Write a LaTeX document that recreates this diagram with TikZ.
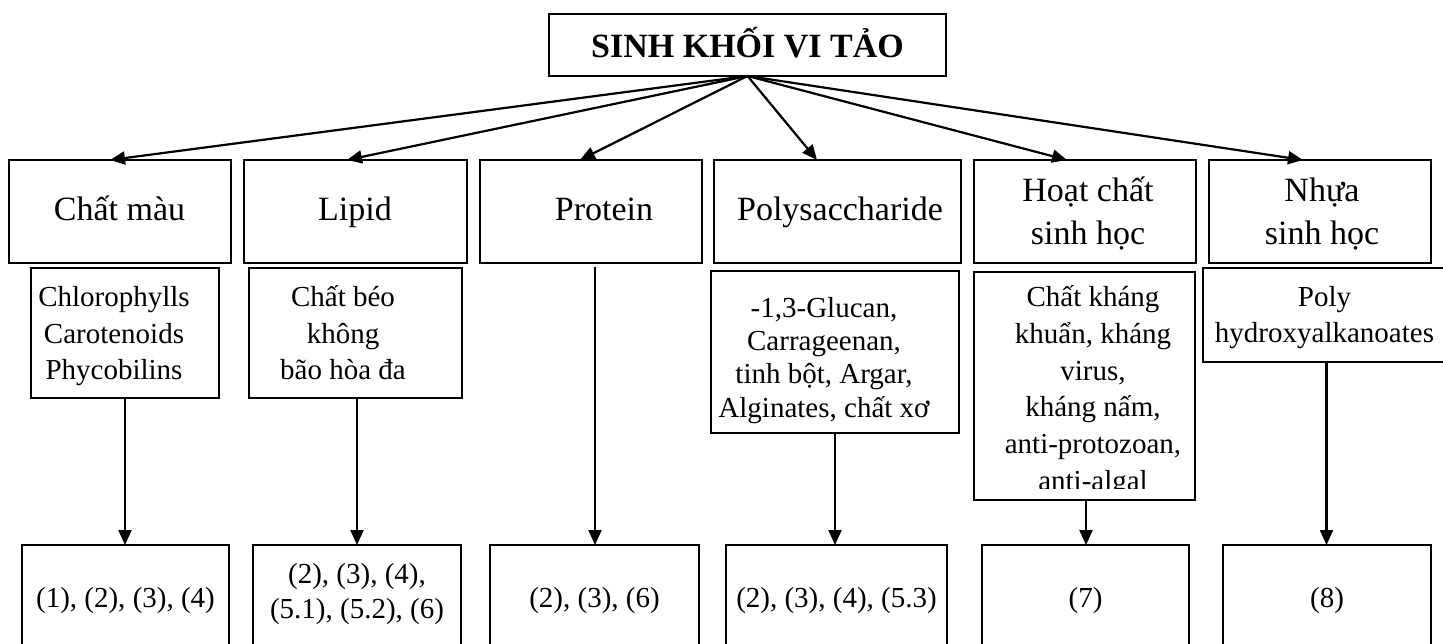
\documentclass[tikz,border=0pt]{standalone}
\usepackage{fontspec}
\setmainfont{Liberation Serif}
\usetikzlibrary{arrows.meta}
\begin{document}
\begin{tikzpicture}[x=1pt,y=-1pt,
  box/.style={draw, line width=2.2pt, inner sep=0pt, outer sep=0pt},
  conn/.style={line width=2.2pt, -{Triangle[length=15pt,width=13pt]}},
  big/.style={inner sep=0pt, anchor=base, font=\fontsize{34}{40}\selectfont},
  small/.style={inner sep=0pt, anchor=base, font=\fontsize{29}{35}\selectfont}]
\useasboundingbox (0,0) rectangle (1443,644);

% title
\node[box, minimum width=397pt, minimum height=62pt] (root) at (747.5,45) {};
\node[inner sep=0pt, anchor=base, font=\fontsize{34}{40}\selectfont\bfseries] (tRoot) at (747.5,58)
  {SINH KHỐI VI TẢO};

% first row
\node[box, minimum width=222pt, minimum height=103pt] (A) at (120,211.5) {};
\node[box, minimum width=223pt, minimum height=103pt] (B) at (355.5,211.5) {};
\node[box, minimum width=222pt, minimum height=103pt] (C) at (591,211.5) {};
\node[box, minimum width=247pt, minimum height=103pt] (D) at (837.5,211.5) {};
\node[box, minimum width=222pt, minimum height=103pt] (E) at (1085,211.5) {};
\node[box, minimum width=222pt, minimum height=103pt] (F) at (1320,211.5) {};

\node[big] (tA) at (119.5,221) {Chất màu};
\node[big] (tB) at (355,221) {Lipid};
\node[big] (tC) at (604,221) {Protein};
\node[big] (tD) at (840,221) {Polysaccharide};
\node[big] (tE1) at (1088,202) {Hoạt chất};
\node[big] (tE2) at (1088,245) {sinh học};
\node[big] (tF1) at (1322,202) {Nhựa};
\node[big] (tF2) at (1322,245) {sinh học};

% arrows from title
\draw[conn] (root.south) -- ([xshift=-10pt]A.north);
\draw[conn] (root.south) -- ([xshift=-8.5pt]B.north);
\draw[conn] (root.south) -- ([xshift=-11pt]C.north);
\draw[conn] (root.south) -- ([xshift=-20.5pt]D.north);
\draw[conn] (root.south) -- ([xshift=-18pt]E.north);
\draw[conn] (root.south) -- ([xshift=-17pt]F.north);

% detail boxes
\node[box, minimum width=188pt, minimum height=130pt] (DA) at (125,333) {};
\node[box, minimum width=213pt, minimum height=130pt] (DB) at (355.5,333) {};
\node[box, minimum width=248pt, minimum height=162pt] (DD) at (835,352) {};
\node[box, minimum width=221pt, minimum height=228pt] (DE) at (1084.5,386) {};
\node[box, minimum width=247pt, minimum height=94pt] (DF) at (1326.5,315) {};

\node[small] (dA1) at (114,307) {Chlorophylls};
\node[small] (dA2) at (114,343) {Carotenoids};
\node[small] (dA3) at (114,379) {Phycobilins};

\node[small] (dB1) at (343,307) {Chất béo};
\node[small] (dB2) at (343,343) {không};
\node[small] (dB3) at (343,379) {bão hòa đa};

\node[small] (dD1) at (824,317) {-1,3-Glucan,};
\node[small] (dD2) at (824,350.3) {Carrageenan,};
\node[small] (dD3) at (824,383.7) {tinh bột, Argar,};
\node[small] (dD4) at (824,417) {Alginates, chất xơ};

\begin{scope}
\clip (976,274) rectangle (1193,488);
\node[small] (dE1) at (1093,307) {Chất kháng};
\node[small] (dE2) at (1093,343.6) {khuẩn, kháng};
\node[small] (dE3) at (1093,380.2) {virus,};
\node[small] (dE4) at (1093,416.8) {kháng nấm,};
\node[small] (dE5) at (1093,453.4) {anti-protozoan,};
\node[small] (dE6) at (1093,490) {anti-algal};
\end{scope}

\node[small] (dF1) at (1324.5,307) {Poly};
\node[small] (dF2) at (1324.5,342) {hydroxyalkanoates};

% bottom boxes
\node[box, minimum width=207pt, minimum height=115pt] (BA) at (125.5,602.5) {};
\node[box, minimum width=208pt, minimum height=115pt] (BB) at (357,602.5) {};
\node[box, minimum width=209pt, minimum height=115pt] (BC) at (594.5,602.5) {};
\node[box, minimum width=221pt, minimum height=115pt] (BD) at (836.5,602.5) {};
\node[box, minimum width=207pt, minimum height=115pt] (BE) at (1085.5,602.5) {};
\node[box, minimum width=208pt, minimum height=115pt] (BF) at (1327,602.5) {};

\node[small] (bA) at (125.5,607) {(1), (2), (3), (4)};
\node[small] (bB1) at (357,583) {(2), (3), (4),};
\node[small] (bB2) at (357,618) {(5.1), (5.2), (6)};
\node[small] (bC) at (594.5,607) {(2), (3), (6)};
\node[small] (bD) at (836.5,607) {(2), (3), (4), (5.3)};
\node[small] (bE) at (1085.5,607) {(7)};
\node[small] (bF) at (1327,607) {(8)};

% vertical arrows
\coordinate (pS) at (595,267);
\draw[conn] (DA.south) -- (DA.south |- BA.north);
\draw[conn] ([xshift=1.5pt]DB.south) -- ([xshift=1.5pt]DB.south |- BB.north);
\draw[conn] (pS) -- (pS |- BC.north);
\draw[conn] (DD.south) -- (DD.south |- BD.north);
\draw[conn] ([xshift=1.5pt]DE.south) -- ([xshift=1.5pt]DE.south |- BE.north);
\draw[conn] (DF.south) -- (DF.south |- BF.north);
\end{tikzpicture}
\end{document}
